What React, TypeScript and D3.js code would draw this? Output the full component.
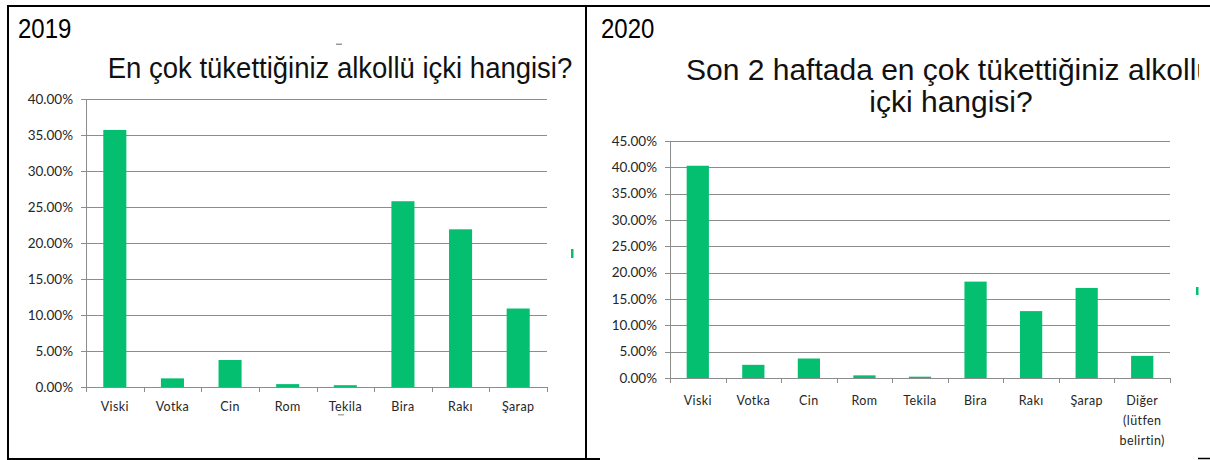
import React from "react";
import * as d3 from "d3";

const categories2019 = ["Viski", "Votka", "Cin", "Rom", "Tekila", "Bira", "Rakı", "Şarap"];
const values2019 = [0.357, 0.012, 0.0375, 0.004, 0.0025, 0.258, 0.219, 0.109];
const yTicks2019 = [0, 0.05, 0.1, 0.15, 0.2, 0.25, 0.3, 0.35, 0.4];

const categories2020 = ["Viski", "Votka", "Cin", "Rom", "Tekila", "Bira", "Rakı", "Şarap", "Diğer\n(lütfen\nbelirtin)"];
const values2020 = [0.403, 0.025, 0.037, 0.005, 0.0025, 0.183, 0.127, 0.171, 0.042];
const yTicks2020 = [0, 0.05, 0.1, 0.15, 0.2, 0.25, 0.3, 0.35, 0.4, 0.45];

const title2019 = "En çok tükettiğiniz alkollü içki hangisi?";
const title2020 = ["Son 2 haftada en çok tükettiğiniz alkollü", "içki hangisi?"];

const GREEN = "#03BF6F";
const GRID = "#8C8C8C";
const LABEL_FONT = "Lato, 'Open Sans', sans-serif";
const TITLE_FONT = "'Liberation Sans', Arial, sans-serif";

type ChartProps = {
  cats: string[];
  vals: number[];
  ticks: number[];
  x0: number;
  x1: number;
  yTop: number;
  yBottom: number;
  labelY: number;
  ySize: number;
  xSize: number;
};

function BarChart({ cats, vals, ticks, x0, x1, yTop, yBottom, labelY, ySize, xSize }: ChartProps) {
  const x = d3.scaleBand<string>().domain(cats).range([x0, x1]).paddingInner(0.6).paddingOuter(0.3);
  const y = d3.scaleLinear().domain([0, ticks[ticks.length - 1]]).range([yBottom, yTop]);
  const step = (x1 - x0) / cats.length;
  const fmt = d3.format(".2%");
  return (
    <g>
      {ticks.map((t) => (
        <g key={t}>
          <line x1={x0 - 5} x2={x1} y1={Math.round(y(t)) + 0.5} y2={Math.round(y(t)) + 0.5} stroke={GRID} strokeWidth={1} />
          <text x={x0 - 13} y={y(t)} dy="0.35em" textAnchor="end" fontFamily={LABEL_FONT} fontSize={ySize} fill="#262626">
            {fmt(t)}
          </text>
        </g>
      ))}
      <line x1={x0 + 0.5} x2={x0 + 0.5} y1={yTop} y2={yBottom + 5} stroke={GRID} />
      {d3.range(cats.length + 1).map((i) => (
        <line key={i} x1={Math.round(x0 + i * step) + 0.5} x2={Math.round(x0 + i * step) + 0.5} y1={yBottom} y2={yBottom + 5} stroke={GRID} />
      ))}
      {cats.map((c, i) => (
        <rect key={c} x={x(c)} width={x.bandwidth()} y={y(vals[i])} height={yBottom - y(vals[i])} fill={GREEN} />
      ))}
      {cats.map((c) => {
        const lines = c.split("\n");
        const cx = (x(c) as number) + x.bandwidth() / 2;
        return (
          <text key={c} x={cx} y={labelY} textAnchor="middle" fontFamily={LABEL_FONT} fontSize={xSize} fill="#262626" letterSpacing={0.4}>
            {lines.map((l, j) => (
              <tspan key={j} x={cx} dy={j === 0 ? "0.35em" : 20}>
                {l}
              </tspan>
            ))}
          </text>
        );
      })}
    </g>
  );
}

export default function App() {
  return (
    <svg width={1210} height={460} style={{ position: "absolute", left: 0, top: 0, background: "#fff" }}>
      <defs>
        <clipPath id="rightClip">
          <rect x={588} y={0} width={611} height={460} />
        </clipPath>
      </defs>
      <rect x={0} y={0} width={1210} height={460} fill="#fff" />
      {/* frame */}
      <line x1={7} x2={1210} y1={6} y2={6} stroke="#000" strokeWidth={2} />
      <line x1={8} x2={8} y1={5} y2={460} stroke="#000" strokeWidth={2} />
      <line x1={586} x2={586} y1={5} y2={460} stroke="#000" strokeWidth={2} />
      <line x1={7} x2={600} y1={459} y2={459} stroke="#000" strokeWidth={2} />
      <line x1={1198} x2={1210} y1={458.5} y2={458.5} stroke="#000" strokeWidth={1.5} />

      {/* 2019 */}
      <text x={18} y={38} fontFamily={TITLE_FONT} fontSize={24} fill="#000" transform="translate(0,38) scale(1,1.18) translate(0,-38)">2019</text>
      <text x={340} y={78} textAnchor="middle" fontFamily={TITLE_FONT} fontSize={27.5} fill="#111" transform="translate(0,78) scale(1,1.08) translate(0,-78)">{title2019}</text>
      <rect x={336} y={43.5} width={6} height={1.5} fill="#999" />
      <BarChart cats={categories2019} vals={values2019} ticks={yTicks2019} x0={86} x1={547} yTop={99} yBottom={387} labelY={407} ySize={13.5} xSize={12.5} />
      <rect x={338} y={414} width={6} height={1.5} fill="#aaa" />
      <rect x={571} y={249} width={2.5} height={9} fill={GREEN} />

      {/* 2020 */}
      <text x={601} y={38} fontFamily={TITLE_FONT} fontSize={24} fill="#000" transform="translate(0,38) scale(1,1.18) translate(0,-38)">2020</text>
      <g clipPath="url(#rightClip)">
        <text x={949.5} y={80} textAnchor="middle" fontFamily={TITLE_FONT} fontSize={30} fill="#111">{title2020[0]}</text>
        <text x={951} y={112} textAnchor="middle" fontFamily={TITLE_FONT} fontSize={30} fill="#111">{title2020[1]}</text>
      </g>
      <BarChart cats={categories2020} vals={values2020} ticks={yTicks2020} x0={670} x1={1170} yTop={141} yBottom={378} labelY={401} ySize={13.5} xSize={12.5} />
      <rect x={1196} y={287} width={2.5} height={8} fill={GREEN} />
    </svg>
  );
}
